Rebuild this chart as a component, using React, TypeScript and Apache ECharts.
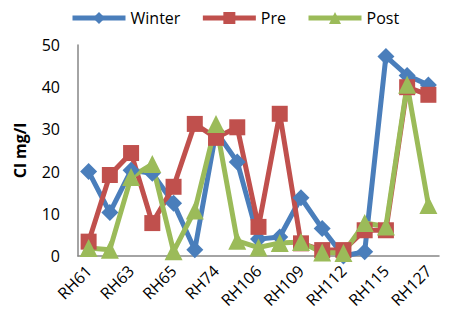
import React, { useEffect, useRef } from "react";
import * as echarts from "echarts";

const categories = [
  "RH61", "RH62", "RH63", "RH64", "RH65", "RH66", "RH74", "RH75", "RH106",
  "RH107", "RH109", "RH110", "RH112", "RH113", "RH115", "RH116", "RH127",
];
const winter = [20, 10.3, 20.3, 19.6, 12.5, 1.5, 29.5, 22.3, 4, 4.5, 13.8, 6.5, 0, 1, 47.3, 42.8, 40.5];
const pre = [3.4, 19.2, 24.4, 7.8, 16.4, 31.3, 28, 30.5, 6.9, 33.7, 3, 1.4, 1.4, 6.1, 6.1, 40, 38.2];
const post = [1.9, 1.5, 18.7, 21.8, 1.1, 10.8, 31.3, 3.6, 2, 3.1, 3.3, 0.8, 0.7, 7.8, 7, 40.6, 12.1];

const FONT = "Open Sans";

export default function App() {
  const ref = useRef<HTMLDivElement>(null);
  useEffect(() => {
    if (!ref.current) return;
    const chart = echarts.init(ref.current, undefined, { renderer: "svg" });
    const mk = (name: string, data: number[], color: string, symbol: string, size: number) => ({
      name,
      type: "line",
      data,
      symbol,
      symbolSize: size,
      showAllSymbol: true,
      lineStyle: { color, width: 5 },
      itemStyle: { color, borderWidth: 0 },
      emphasis: { disabled: true },
    });
    chart.setOption({
      animation: false,
      legend: {
        top: 5,
        left: 65,
        itemWidth: 53,
        itemHeight: 15,
        itemGap: 20,
        lineStyle: { width: 5 },
        textStyle: { fontFamily: FONT, fontSize: 16, color: "#000" },
        data: ["Winter", "Pre", "Post"],
      },
      grid: { left: 78, right: 17, top: 45, bottom: 70 },
      xAxis: {
        type: "category",
        data: categories,
        boundaryGap: true,
        axisLine: { lineStyle: { color: "#868686", width: 1.5 } },
        axisTick: { show: false },
        axisLabel: {
          interval: 1,
          rotate: 45,
          margin: 12,
          fontFamily: FONT,
          fontSize: 16,
          color: "#000",
        },
      },
      yAxis: {
        type: "value",
        min: 0,
        max: 50,
        interval: 10,
        name: "Cl mg/l",
        nameLocation: "middle",
        nameGap: 50,
        nameTextStyle: { fontFamily: FONT, fontSize: 16, fontWeight: "bold", color: "#000" },
        splitLine: { show: false },
        axisLine: { show: true, lineStyle: { color: "#868686", width: 1.5 } },
        axisTick: { show: false },
        axisLabel: { fontFamily: FONT, fontSize: 16, color: "#000", margin: 18 },
      },
      series: [
        mk("Winter", winter, "#4A7EBB", "diamond", 17),
        mk("Pre", pre, "#C0504D", "rect", 16),
        mk("Post", post, "#9BBB59", "triangle", 18),
      ],
    });
    return () => chart.dispose();
  }, []);
  return (
    <div
      ref={ref}
      style={{ position: "absolute", left: 0, top: 0, width: 456, height: 326 }}
    />
  );
}
